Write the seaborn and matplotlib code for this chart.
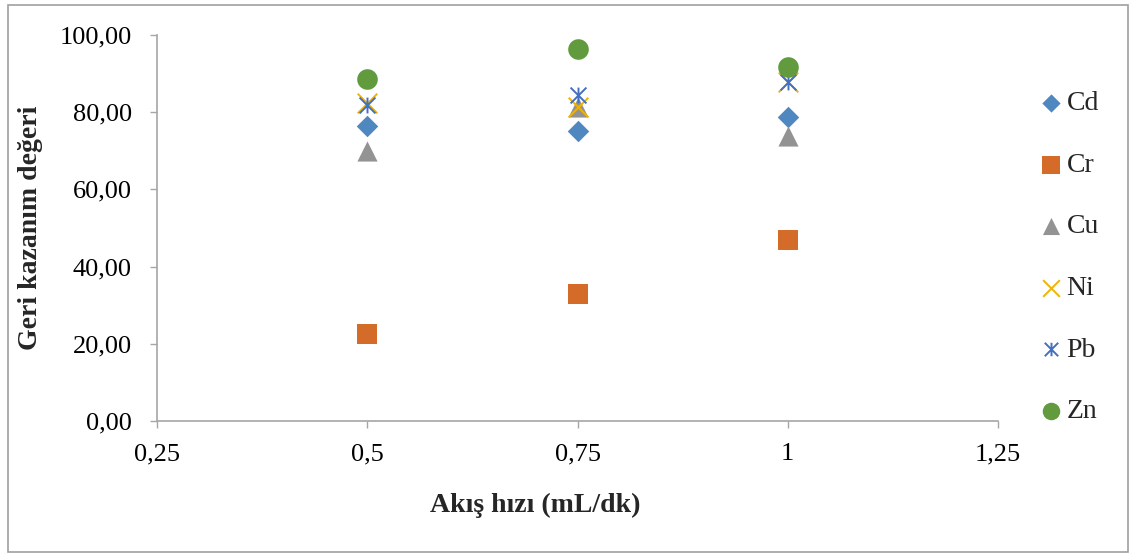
import numpy as np
import seaborn as sns
import matplotlib.pyplot as plt
from matplotlib.patches import Rectangle
from matplotlib.path import Path
from matplotlib.ticker import FuncFormatter

# Data
flow = [0.5, 0.75, 1.0]
metals = ["Cd", "Cr", "Cu", "Ni", "Pb", "Zn"]
cd = [76.5, 75.2, 78.8]
cr = [22.5, 32.9, 46.9]
cu = [70.0, 81.4, 73.8]
ni = [82.3, 81.3, 87.7]
pb = [81.9, 84.5, 87.9]
zn = [88.5, 96.5, 91.6]
values = [cd, cr, cu, ni, pb, zn]

# excel-style star marker: vertical bar plus an x
star = Path([(0, -1), (0, 1), (-1, -1), (1, 1), (-1, 1), (1, -1)],
            [Path.MOVETO, Path.LINETO] * 3)

colors = ["#4F88C0", "#D46B29", "#939393", "#F0B400", "#4470C0", "#629A3E"]
markers = ["D", "s", "^", "x", star, "o"]
sizes = [120, 210, 210, 200, 130, 220]

sns.set_theme(style="white")
plt.rcParams["font.family"] = ["Liberation Serif", "DejaVu Serif"]

fig = plt.figure(figsize=(11.31, 5.54), dpi=100)
ax = fig.add_axes([157 / 1131, 1 - 421 / 554, (998 - 157) / 1131, (421 - 35) / 554])

for name, vals, c, m, s in zip(metals, values, colors, markers, sizes):
    if name in ("Ni", "Pb"):
        sns.scatterplot(x=flow, y=vals, marker=m, color=c, edgecolor=c, s=s,
                        linewidth=1.4, ax=ax, label=name, clip_on=False)
    else:
        sns.scatterplot(x=flow, y=vals, marker=m, color=c, s=s, linewidth=0,
                        ax=ax, label=name, clip_on=False)

ax.set_xlim(0.25, 1.25)
ax.set_ylim(0, 100)
ax.set_xticks([0.25, 0.5, 0.75, 1.0, 1.25])
ax.set_xticklabels(["0,25", "0,5", "0,75", "1", "1,25"])
ax.set_yticks(np.arange(0, 101, 20))
ax.yaxis.set_major_formatter(FuncFormatter(lambda v, p: f"{v:.2f}".replace(".", ",")))
ax.tick_params(axis="both", labelsize=19, colors="black", length=5, width=1,
               direction="out", left=True, bottom=True)
ax.tick_params(axis="y", pad=13)
ax.tick_params(axis="x", pad=11)
ax.tick_params(axis="both", color="#A6A6A6")
sns.despine(ax=ax)
for sp in ["left", "bottom"]:
    ax.spines[sp].set_color("#A6A6A6")
    ax.spines[sp].set_linewidth(1.2)
ax.set_xlabel("")
ax.set_ylabel("")

fig.text(535 / 1131, 1 - 505 / 554, "Akış hızı (mL/dk)", ha="center", va="center",
         fontsize=20, fontweight="bold")
fig.text(31 / 1131, 1 - 228 / 554, "Geri kazanım değeri", ha="center", va="center",
         rotation=90, fontsize=20, fontweight="bold")

ax.legend(loc="center left", bbox_to_anchor=(1036 / 1131, 1 - 257.5 / 554),
          bbox_transform=fig.transFigure, frameon=False, fontsize=20,
          labelspacing=1.3, handletextpad=0.0, borderpad=0, borderaxespad=0,
          markerscale=0.85, handlelength=1.1)

fig.patches.append(Rectangle((8 / 1131, 1 - 552 / 554), 1120 / 1131, 547 / 554,
                             transform=fig.transFigure, fill=False,
                             edgecolor="#A0A0A0", linewidth=1.2))

plt.savefig("out.png", dpi=100)
